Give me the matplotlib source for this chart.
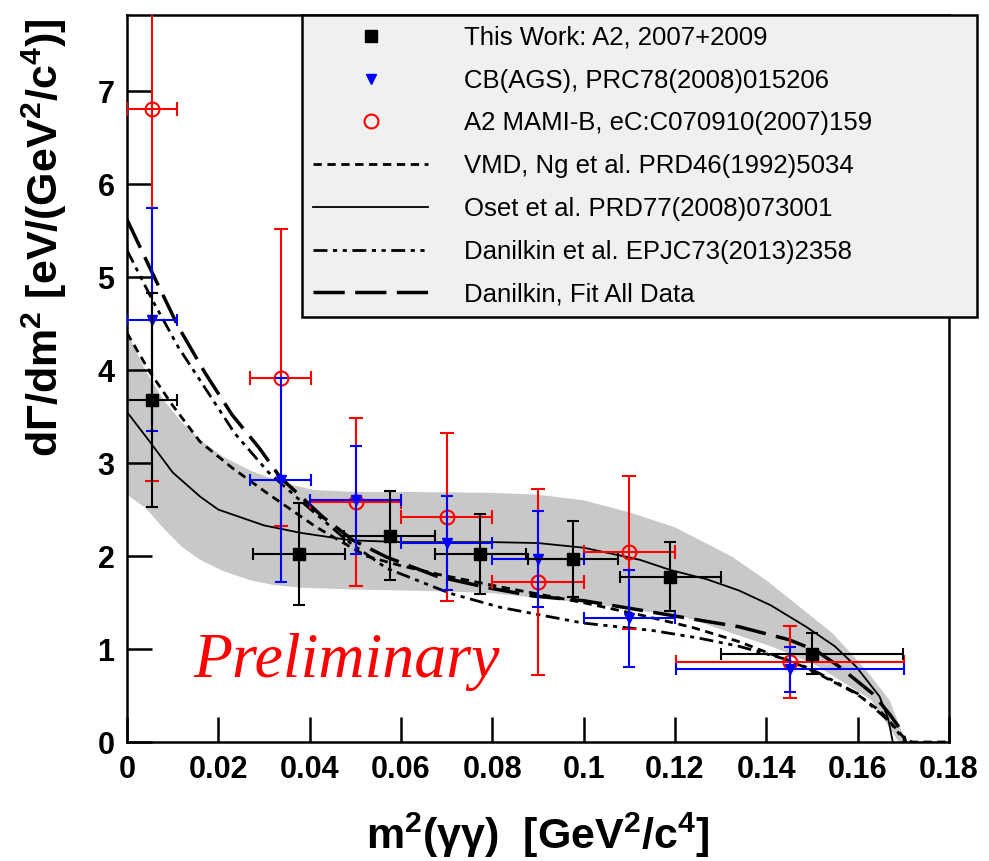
import matplotlib.pyplot as plt

plt.rcParams['font.family'] = ['Liberation Sans', 'DejaVu Sans']
plt.rcParams['mathtext.fontset'] = 'custom'
plt.rcParams['mathtext.rm'] = 'Liberation Sans:bold'
plt.rcParams['mathtext.it'] = 'Liberation Sans:bold'
plt.rcParams['mathtext.bf'] = 'Liberation Sans:bold'

# This Work: A2, 2007+2009
a2_x = [0.0054, 0.0377, 0.0575, 0.0774, 0.0977, 0.119, 0.150]
a2_y = [3.68, 2.02, 2.22, 2.02, 1.97, 1.78, 0.95]
a2_ey = [1.15, 0.55, 0.48, 0.43, 0.41, 0.37, 0.22]
a2_ex = [0.0055, 0.010, 0.0099, 0.010, 0.0099, 0.011, 0.020]

# CB(AGS)
cb_x = [0.0054, 0.0337, 0.0501, 0.070, 0.090, 0.110, 0.1452]
cb_y = [4.54, 2.82, 2.60, 2.14, 1.97, 1.33, 0.78]
cb_ey = [1.2, 1.1, 0.58, 0.51, 0.52, 0.52, 0.245]
cb_ex = [0.0055, 0.0067, 0.010, 0.010, 0.010, 0.010, 0.025]

# A2 MAMI-B
mb_x = [0.0054, 0.0337, 0.0501, 0.070, 0.090, 0.110, 0.1452]
mb_y = [6.81, 3.92, 2.58, 2.42, 1.72, 2.04, 0.86]
mb_ey = [4.0, 1.6, 0.9, 0.9, 1.0, 0.82, 0.39]
mb_ex = [0.0055, 0.0067, 0.010, 0.010, 0.010, 0.010, 0.025]

# theory curves
vmd_x = [0, 0.005, 0.01, 0.016, 0.023, 0.0306, 0.0415, 0.0524, 0.0597, 0.0685,
         0.0816, 0.0998, 0.113, 0.124, 0.134, 0.1487, 0.1597, 0.165, 0.1685,
         0.1706, 0.172, 0.18]
vmd_y = [4.40, 3.98, 3.62, 3.23, 2.95, 2.68, 2.31, 2.00, 1.90, 1.80,
         1.67, 1.50, 1.36, 1.23, 1.08, 0.80, 0.52, 0.33, 0.14,
         0.02, 0.0, 0.0]

oset_x = [0, 0.005, 0.01, 0.016, 0.02, 0.03, 0.038, 0.049, 0.06, 0.08, 0.09,
          0.1, 0.1123, 0.119, 0.127, 0.134, 0.141, 0.1487, 0.155, 0.1597,
          0.1648, 0.1667, 0.1677]
oset_y = [3.55, 3.23, 2.90, 2.64, 2.50, 2.33, 2.25, 2.17, 2.15, 2.15, 2.14,
          2.09, 1.96, 1.85, 1.75, 1.63, 1.47, 1.24, 1.03, 0.81,
          0.49, 0.25, 0.0]

epjc_x = [0, 0.0056, 0.0112, 0.0236, 0.031, 0.0379, 0.0481, 0.0568, 0.0707,
          0.0816, 0.0998, 0.115, 0.125, 0.134, 0.145, 0.15, 0.16, 0.167, 0.1705]
epjc_y = [5.29, 4.75, 4.25, 3.32, 2.90, 2.60, 2.17, 1.87, 1.60,
          1.45, 1.28, 1.20, 1.12, 1.03, 0.88, 0.78, 0.52, 0.22, 0.0]

fit_x = [0, 0.0055, 0.0112, 0.0171, 0.023, 0.029, 0.0335, 0.0429, 0.0495,
         0.0568, 0.068, 0.079, 0.089, 0.1, 0.1123, 0.123, 0.134, 0.145, 0.151,
         0.156, 0.1633, 0.167, 0.1699, 0.1705]
fit_y = [5.62, 5.05, 4.47, 3.97, 3.52, 3.16, 2.85, 2.42, 2.17,
         1.99, 1.78, 1.66, 1.57, 1.52, 1.42, 1.33, 1.24, 1.10, 0.98,
         0.81, 0.52, 0.30, 0.10, 0.0]

# gray band of the fit
band_up_x = [0, 0.004, 0.008, 0.012, 0.016, 0.021, 0.027, 0.034, 0.041, 0.05,
             0.06, 0.08, 0.09, 0.1, 0.11, 0.12, 0.1326, 0.14, 0.1545, 0.1619,
             0.167, 0.1706]
band_up_y = [4.41, 4.00, 3.68, 3.44, 3.25, 3.07, 2.92, 2.79, 2.71, 2.69,
             2.69, 2.68, 2.66, 2.60, 2.47, 2.31, 1.99, 1.74, 1.17, 0.77,
             0.45, 0.0]
band_lo_x = [0, 0.004, 0.008, 0.012, 0.016, 0.021, 0.027, 0.032, 0.038, 0.05,
             0.07, 0.08, 0.1, 0.114, 0.12, 0.1415, 0.15, 0.156, 0.163, 0.1677,
             0.169]
band_lo_y = [2.66, 2.52, 2.30, 2.10, 1.96, 1.84, 1.74, 1.69, 1.66, 1.64,
             1.62, 1.60, 1.50, 1.40, 1.38, 1.02, 0.85, 0.67, 0.45, 0.10,
             0.0]

xticks = [0, 0.02, 0.04, 0.06, 0.08, 0.1, 0.12, 0.14, 0.16, 0.18]
xticklabels = ['0', '0.02', '0.04', '0.06', '0.08', '0.1', '0.12', '0.14', '0.16', '0.18']
yticks = [0, 1, 2, 3, 4, 5, 6, 7]

fig = plt.figure(figsize=(9.89, 8.61), dpi=100)
ax = fig.add_axes([0.1284, 0.1382, 0.8311, 0.8444])

ax.fill(band_up_x + band_lo_x[::-1], band_up_y + band_lo_y[::-1],
        color='#c8c8c8', lw=0, zorder=1)

l_vmd, = ax.plot(vmd_x, vmd_y, color='black', lw=2, dashes=(3, 2), zorder=2)
l_oset, = ax.plot(oset_x, oset_y, color='black', lw=1.3, zorder=2)
l_epjc, = ax.plot(epjc_x, epjc_y, color='black', lw=2,
                  dashes=(5, 2, 1.5, 2, 1.5, 2), zorder=2)
l_fit, = ax.plot(fit_x, fit_y, color='black', lw=2.5, dashes=(9, 3), zorder=2)

ax.errorbar(mb_x, mb_y, yerr=mb_ey, xerr=mb_ex, fmt='none', ecolor='red',
            elinewidth=1.5, capsize=5, capthick=1.5, zorder=3)
ax.errorbar(cb_x, cb_y, yerr=cb_ey, xerr=cb_ex, fmt='none', ecolor='blue',
            elinewidth=1.5, capsize=4.5, capthick=1.5, zorder=4)
ax.errorbar(a2_x, a2_y, yerr=a2_ey, xerr=a2_ex, fmt='none', ecolor='black',
            elinewidth=1.5, capsize=4.5, capthick=1.5, zorder=5)

m_mb, = ax.plot(mb_x, mb_y, 'o', ms=10, mfc='none', mec='red', mew=1.5, zorder=3)
m_cb, = ax.plot(cb_x, cb_y, 'v', ms=7, color='blue', zorder=4)
m_a2, = ax.plot(a2_x, a2_y, 's', ms=8.5, color='black', zorder=5)

ax.text(0.0145, 0.70, 'Preliminary', color='red', fontsize=46,
        family='Liberation Serif', style='italic', va='baseline', zorder=6)

ax.set_xlim(0, 0.18)
ax.set_ylim(0, 7.82)
ax.set_xticks(xticks)
ax.set_xticklabels(xticklabels)
ax.set_yticks(yticks)
ax.tick_params(direction='in', length=18, width=1.8, labelsize=22, pad=9)
for lab in ax.get_xticklabels() + ax.get_yticklabels():
    lab.set_fontweight('bold')
for s in ax.spines.values():
    s.set_linewidth(1.8)

ax.set_xlabel(r'm$^{2}$(γγ)  [GeV$^{2}$/c$^{4}$]', fontsize=31, fontweight='bold')
ax.xaxis.set_label_coords(0.5, -0.094)
ax.set_ylabel(r'dΓ/dm$^{2}$ [eV/(GeV$^{2}$/c$^{4}$)]', fontsize=31,
              fontweight='bold', loc='top')
ax.yaxis.set_label_coords(-0.07, 0.995)

leg = ax.legend([m_a2, m_cb, m_mb, l_vmd, l_oset, l_epjc, l_fit],
                ['This Work: A2, 2007+2009', 'CB(AGS), PRC78(2008)015206',
                 'A2 MAMI-B, eC:C070910(2007)159', 'VMD, Ng et al. PRD46(1992)5034',
                 'Oset et al. PRD77(2008)073001', 'Danilkin et al. EPJC73(2013)2358',
                 'Danilkin, Fit All Data'],
                loc='upper left', bbox_to_anchor=(0.213, 1.0, 0.821, 0),
                mode='expand', borderaxespad=0, fancybox=False,
                prop={'family': 'Liberation Sans', 'size': 18.5},
                handlelength=4.5, handletextpad=1.4, labelspacing=0.73,
                borderpad=0.42, framealpha=1)
leg.get_frame().set_facecolor('#f0f0f0')
leg.get_frame().set_edgecolor('black')
leg.get_frame().set_linewidth(1.8)
leg.set_zorder(10)

fig.savefig('out.png', dpi=100)
